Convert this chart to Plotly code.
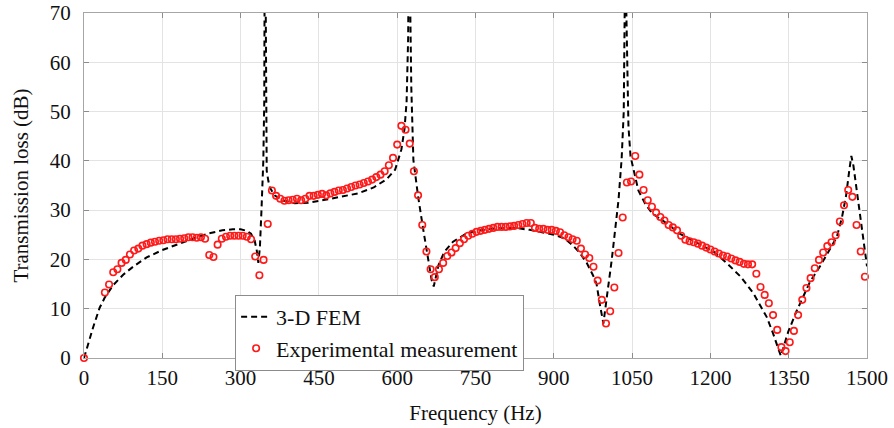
import plotly.graph_objects as go

# Experimental measurement
exp_freq = [
    0,
    40, 48, 56, 64, 72, 80, 88, 96, 104, 112,
    120, 128, 136, 144, 152, 160, 168, 176, 184, 192,
    200, 208, 216, 224, 232, 240, 248, 256, 264, 272,
    280, 288, 296, 304, 312, 320, 328, 336, 344, 352,
    360, 368, 376, 384, 392, 400, 408, 416, 424, 432,
    440, 448, 456, 464, 472, 480, 488, 496, 504, 512,
    520, 528, 536, 544, 552, 560, 568, 576, 584, 592,
    600, 608, 616, 624, 632, 640, 648, 656, 664, 672,
    680, 688, 696, 704, 712, 720, 728, 736, 744, 752,
    760, 768, 776, 784, 792, 800, 808, 816, 824, 832,
    840, 848, 856, 864, 872, 880, 888, 896, 904, 912,
    920, 928, 936, 944, 952, 960, 968, 976, 984, 992,
    1000, 1008, 1016, 1024, 1032, 1040, 1048, 1056, 1064, 1072,
    1080, 1088, 1096, 1104, 1112, 1120, 1128, 1136, 1144, 1152,
    1160, 1168, 1176, 1184, 1192, 1200, 1208, 1216, 1224, 1232,
    1240, 1248, 1256, 1264, 1272, 1280, 1288, 1296, 1304, 1312,
    1320, 1328, 1336, 1344, 1352, 1360, 1368, 1376, 1384, 1392,
    1400, 1408, 1416, 1424, 1432, 1440, 1448, 1456, 1464, 1472,
    1480, 1488, 1496,
]
exp_tl = [
    0.0,
    13.3, 14.9, 17.4, 18.0, 19.3, 19.9, 21.0, 21.8, 22.2, 22.8,
    23.1, 23.4, 23.6, 23.8, 23.9, 24.1, 24.1, 24.1, 24.2, 24.3,
    24.5, 24.5, 24.4, 24.5, 24.2, 20.9, 20.5, 23.0, 24.2, 24.6,
    24.8, 24.8, 24.8, 24.8, 24.6, 24.1, 20.6, 16.8, 19.9, 27.2,
    34.0, 32.9, 32.3, 31.9, 32.0, 32.1, 32.3, 32.0, 32.3, 32.9,
    32.9, 33.1, 33.3, 33.0, 33.4, 33.7, 34.0, 34.1, 34.4, 34.7,
    35.0, 35.2, 35.5, 35.8, 36.2, 36.7, 37.2, 37.9, 39.1, 40.6,
    43.3, 47.1, 46.3, 43.5, 37.9, 33.0, 27.0, 21.6, 18.0, 16.4,
    18.0, 19.3, 20.7, 21.4, 22.3, 23.3, 24.1, 24.8, 25.2, 25.6,
    25.8, 26.0, 26.2, 26.4, 26.6, 26.6, 26.6, 26.7, 26.8, 27.0,
    27.2, 27.4, 27.4, 26.4, 26.2, 26.2, 26.0, 26.0, 25.8, 25.5,
    24.9, 24.5, 24.1, 23.8, 22.2, 21.0, 20.3, 18.5, 15.7, 11.8,
    7.0, 9.5, 14.3, 21.3, 28.5, 35.6, 35.8, 41.0, 37.2, 34.1,
    32.0, 30.7, 29.5, 28.6, 27.9, 27.0, 26.5, 25.9, 24.8, 24.0,
    23.7, 23.5, 23.2, 22.8, 22.4, 22.0, 21.6, 21.2, 20.8, 20.6,
    20.2, 19.8, 19.5, 19.1, 19.0, 19.0, 17.1, 14.4, 12.8, 11.1,
    8.7, 5.7, 2.2, 1.4, 3.2, 5.5, 8.7, 11.8, 14.2, 16.2,
    18.2, 19.9, 21.4, 22.7, 23.5, 24.9, 27.7, 31.0, 34.1, 32.7,
    27.0, 21.6, 16.5,
]

# 3-D FEM
fem_freq = [
    0, 8, 18, 30, 40, 56, 75, 95, 120, 150,
    184, 216, 240, 265, 285, 300, 312, 320, 327, 331,
    334, 337, 340, 343.5, 345.3, 346.6, 347.3, 348.1, 350, 353, 356,
    365, 380, 404, 430, 462, 500, 525, 555, 580, 596,
    608, 614, 618, 621, 622.5, 624.5, 627, 631, 640, 650,
    660, 666, 670, 674, 679, 690, 707, 733, 760, 790,
    826, 854, 880, 900, 920, 937, 950, 963, 975, 982,
    988, 995, 1003, 1011, 1024, 1030, 1034, 1036, 1037.5, 1039,
    1041, 1043, 1047, 1056, 1062, 1075, 1088, 1100, 1114, 1142,
    1180, 1206, 1231, 1257, 1282, 1308, 1320, 1327, 1335, 1341,
    1349, 1365, 1378, 1391, 1410, 1425, 1442, 1452, 1460, 1466,
    1470, 1474, 1480, 1490, 1500,
]
fem_tl = [
    0.0, 3.0, 6.4, 10.2, 12.3, 14.8, 16.9, 18.6, 20.4, 21.9,
    23.3, 24.5, 25.3, 25.9, 26.1, 26.1, 25.8, 25.2, 23.8, 21.8,
    19.3, 22.5, 30.0, 40.0, 52.0, 72.0, 120.0, 72.0, 38.0, 36.0, 34.6,
    33.0, 32.0, 31.4, 31.5, 32.1, 32.8, 33.4, 34.6, 36.3, 38.2,
    42.3, 46.5, 52.0, 65.0, 90.0, 75.0, 55.0, 40.2, 32.8, 26.0,
    19.2, 15.8, 14.5, 16.5, 18.8, 21.5, 23.6, 25.3, 25.9, 26.3,
    26.4, 26.0, 25.5, 25.0, 24.3, 22.8, 21.3, 19.3, 16.8, 15.0,
    11.0, 7.0, 13.5, 19.9, 32.1, 40.5, 50.0, 65.0, 90.0, 70.0,
    56.0, 47.0, 40.9, 36.5, 34.0, 31.3, 29.4, 28.5, 27.5, 25.2,
    23.0, 21.6, 19.3, 16.6, 13.2, 8.3, 5.0, 3.0, 0.4, 2.5,
    5.3, 9.5, 12.5, 15.5, 18.6, 21.5, 24.5, 28.5, 33.0, 38.0,
    41.0, 39.0, 34.2, 25.5, 18.6,
]

x_ticks = [0, 150, 300, 450, 600, 750, 900, 1050, 1200, 1350, 1500]
y_ticks = [0, 10, 20, 30, 40, 50, 60, 70]

FONT = "Liberation Serif"

fig = go.Figure()
fig.add_trace(go.Scatter(
    x=fem_freq, y=fem_tl, mode="lines", name="3-D FEM",
    line=dict(color="black", width=2, dash="6px,4px"),
))
fig.add_trace(go.Scatter(
    x=exp_freq, y=exp_tl, mode="markers", name="Experimental measurement",
    marker=dict(symbol="circle-open", size=6.5, color="#ff1a1a", line=dict(width=1.6, color="#ff1a1a")),
    cliponaxis=False,
))

axis_common = dict(
    showline=True, linecolor="#a6a6a6", linewidth=1, mirror="ticks",
    ticks="inside", ticklen=5, tickcolor="#8c8c8c",
    showgrid=True, gridcolor="#e3e3e3", gridwidth=1,
    zeroline=False, automargin=False,
    tickfont=dict(family=FONT, size=21, color="#111"),
)

fig.update_xaxes(
    range=[0, 1500], tickvals=x_ticks, ticktext=[str(v) for v in x_ticks],
    title=dict(text="Frequency (Hz)", font=dict(family=FONT, size=21, color="#111"), standoff=16),
    ticklabelstandoff=1,
    **axis_common,
)
fig.update_yaxes(
    range=[0, 70], tickvals=y_ticks, ticktext=[str(v) for v in y_ticks],
    title=dict(text="Transmission loss (dB)", font=dict(family=FONT, size=21, color="#111"), standoff=15),
    ticklabelstandoff=8,
    **axis_common,
)

fig.update_layout(
    width=894, height=428,
    margin=dict(l=84, r=27, t=13, b=70),
    paper_bgcolor="white", plot_bgcolor="white",
    font=dict(family=FONT, size=21, color="#111"),
    legend=dict(
        x=0.193, y=0.183, xanchor="left", yanchor="top",
        bgcolor="white", bordercolor="#8c8c8c", borderwidth=1,
        font=dict(family=FONT, size=22, color="#111"),
        tracegroupgap=0, itemwidth=30,
    ),
    showlegend=True,
)

fig.write_html(
    "out.html",
    config={"displayModeBar": False},
    post_script="document.body.style.margin='0';document.body.style.overflow='hidden';",
)
